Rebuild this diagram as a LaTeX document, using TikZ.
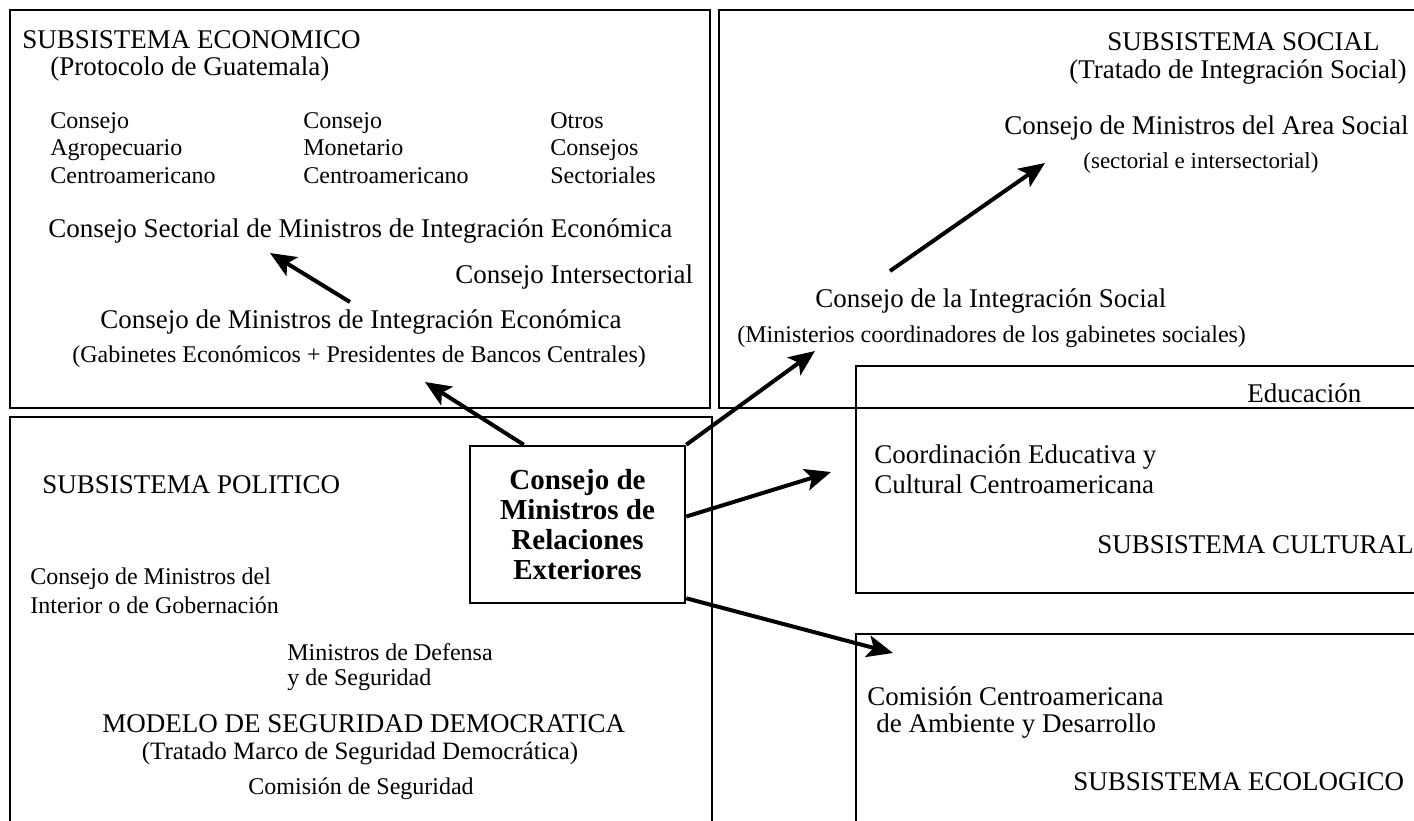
\documentclass[tikz,border=0pt]{standalone}
\usepackage{fontspec}
\setmainfont{Liberation Serif}
\usetikzlibrary{arrows.meta, calc}

\begin{document}
\begin{tikzpicture}[x=0.5pt, y=-0.5pt,
    >={Stealth[length=13pt, width=11pt, inset=3pt]},
    frame/.style={draw, line width=1.3pt},
    big/.style={inner sep=0pt, anchor=base west, align=left,
      font=\fontsize{13.5}{14.5}\selectfont},
    small/.style={inner sep=0pt, anchor=base west, align=left,
      font=\fontsize{12}{13.75}\selectfont},
    link/.style={->, line width=2pt}]
  \useasboundingbox (0,0) rectangle (1414,820);
  \clip (0,0) rectangle (1414,820);

  % subsystem frames
  \draw[frame] (10,10) rectangle (710,408);
  \draw[frame] (719,10) rectangle (1440,408);
  \draw[frame] (10,417) rectangle (712,850);
  \draw[frame] (856,366) rectangle (1440,593);
  \draw[frame] (856,634) rectangle (1440,850);

  % economic (multi-line nodes sit on their last baseline)
  \node[big] (econtit) at (22,48) {SUBSISTEMA ECONOMICO};
  \node[big] (econprot) at (50,75) {(Protocolo de Guatemala)};
  \node[small] (agro) at (50,183) {Consejo\\Agropecuario\\Centroamericano};
  \node[small] (mone) at (303,183) {Consejo\\Monetario\\Centroamericano};
  \node[small] (otros) at (550,183) {Otros\\Consejos\\Sectoriales};
  \node[big] (csmie) at (48,237) {Consejo Sectorial de Ministros de Integración Económica};
  \node[big] (cinter) at (455,283) {Consejo Intersectorial};
  \node[big] (cmie) at (100,328) {Consejo de Ministros de Integración Económica};
  \node[small] (gab) at (72,362) {(Gabinetes Económicos + Presidentes de Bancos Centrales)};

  % social
  \node[big] (soctit) at (1107,50) {SUBSISTEMA SOCIAL};
  \node[big] (soctrat) at (1069,78) {(Tratado de Integración Social)};
  \node[big] (cmas) at (1004,134) {Consejo de Ministros del Area Social};
  \node[small, font=\fontsize{11.5}{13}\selectfont] (secint) at (1083,168) {(sectorial e intersectorial)};
  \node[big] (cis) at (815,307) {Consejo de la Integración Social};
  \node[small] (mincoord) at (737,342) {(Ministerios coordinadores de los gabinetes sociales)};
  \node[big] (educ) at (1247,402) {Educación};

  % cultural
  \node[big, font=\fontsize{13.5}{15}\selectfont] (ceduc) at (874,493) {Coordinación Educativa y\\Cultural Centroamericana};
  \node[big] (cultit) at (1097,553) {SUBSISTEMA CULTURAL};

  % ecological
  \node[big, font=\fontsize{13.5}{13.5}\selectfont] (ccad) at (867,732) {Comisión Centroamericana\\\hspace{4.5pt}de Ambiente y Desarrollo};
  \node[big] (ecolotit) at (1073,790) {SUBSISTEMA ECOLOGICO};

  % political
  \node[big] (poltit) at (42,493) {SUBSISTEMA POLITICO};
  \node[small, font=\fontsize{12}{14.5}\selectfont] (cmig) at (30,613) {Consejo de Ministros del\\Interior o de Gobernación};
  \node[small, font=\fontsize{12}{12.5}\selectfont] (mdef) at (287,685) {Ministros de Defensa\\y de Seguridad};
  \node[big] (modelo) at (102,732) {MODELO DE SEGURIDAD DEMOCRATICA};
  \node[small, anchor=base, font=\fontsize{12.5}{13}\selectfont] (tmsd) at (360,759) {(Tratado Marco de Seguridad Democrática)};
  \node[small] (cseg) at (248,794) {Comisión de Seguridad};

  % central council
  \node[frame, fill=white, minimum width=107.5pt, minimum height=78.5pt, inner sep=0pt,
    align=center, font=\bfseries\fontsize{14.5}{15}\selectfont]
    (cmre) at (577.5,524.5) {Consejo de\\Ministros de\\Relaciones\\Exteriores};

  \path[link]
    ([xshift=27.5pt]cmre.north west) edge ([xshift=176.5pt, yshift=-10pt]gab.base west)
    (cmre.north east) edge ([xshift=39pt, yshift=-4.5pt]mincoord.base west)
    ([yshift=4pt]cmre.east) edge ([xshift=-21.5pt, yshift=10.5pt]ceduc.base west)
    ([yshift=3pt]cmre.south east) edge ([xshift=13pt, yshift=39.5pt]ccad.base west)
    ([xshift=125pt, yshift=13pt]cmie.base west) edge ([xshift=111pt, yshift=-8pt]csmie.base west)
    ([xshift=37.5pt, yshift=18pt]cis.base west) edge ([xshift=-19pt, yshift=2.5pt]secint.base west);
\end{tikzpicture}
\end{document}
